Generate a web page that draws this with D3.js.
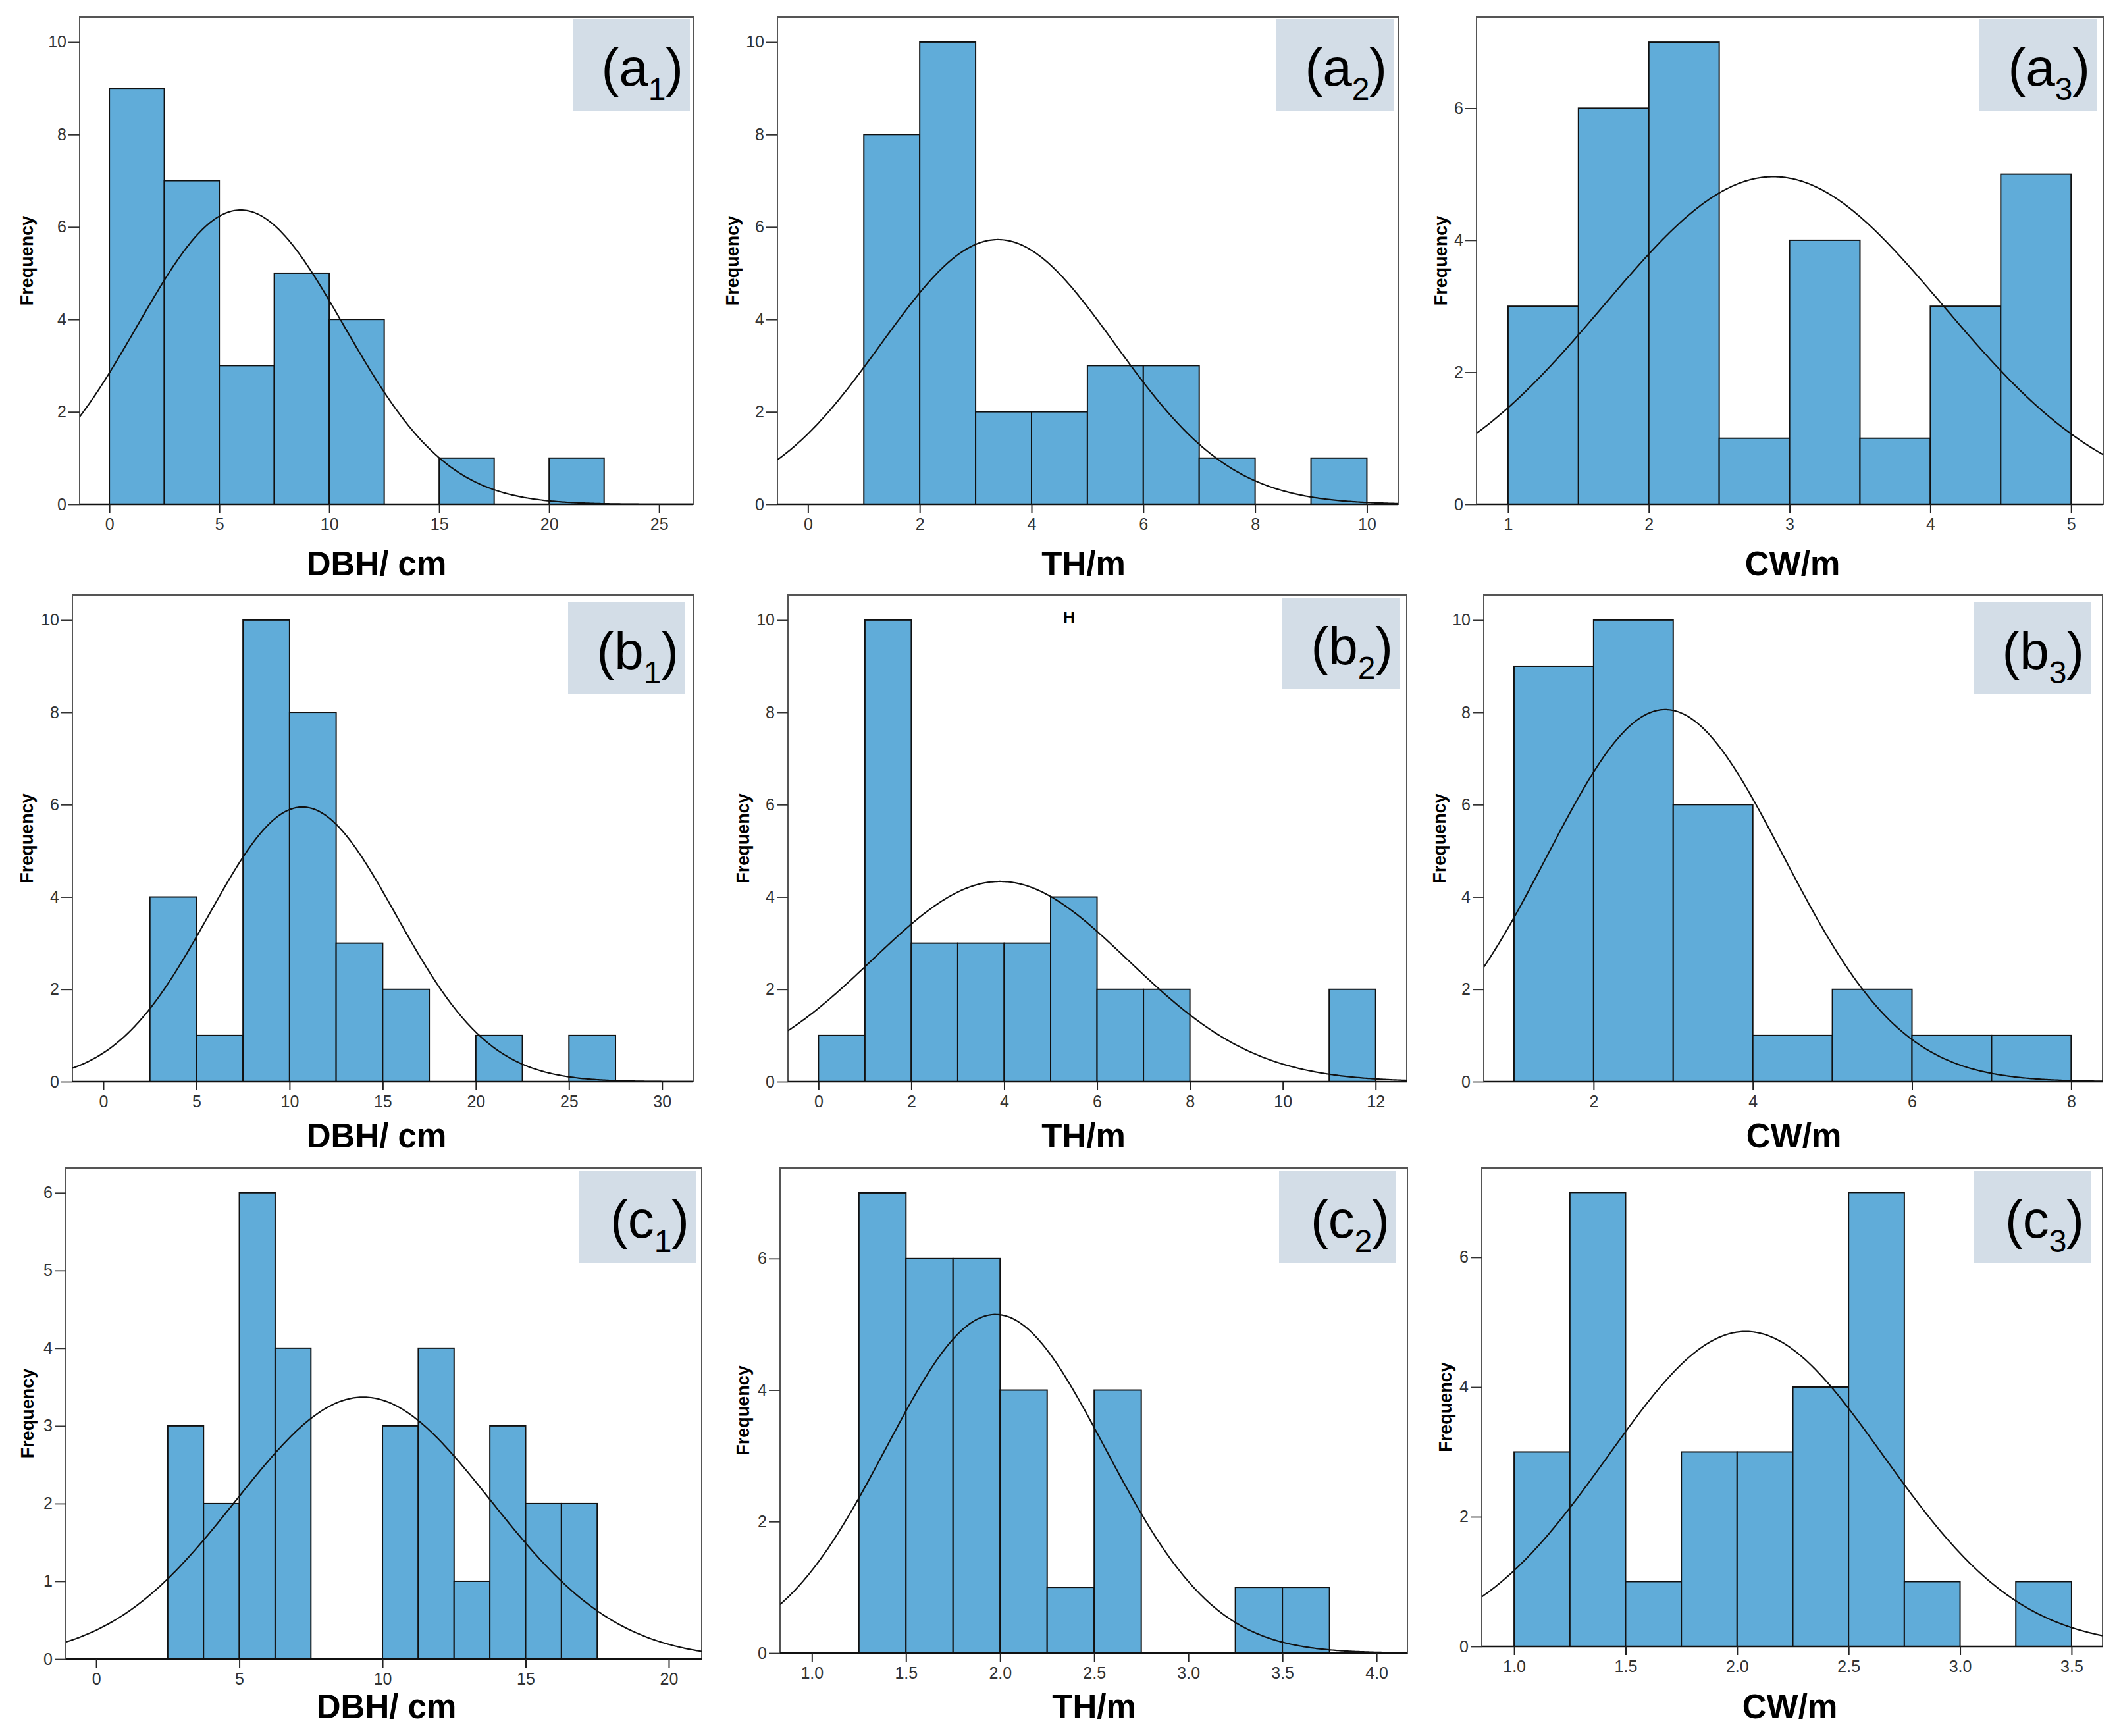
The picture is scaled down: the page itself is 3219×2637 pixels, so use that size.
<!DOCTYPE html>
<html>
<head>
<meta charset="utf-8">
<script src="https://cdn.jsdelivr.net/npm/d3@7"></script>
<style>
  body { margin: 0; background: #fff; }
  svg { display: block; }
</style>
</head>
<body>
<div id="chart"></div>
<script>
// ---- data ----
var panelIds = ["a1", "a2", "a3", "b1", "b2", "b3", "c1", "c2", "c3"];
var axisTitles = ["DBH/ cm", "TH/m", "CW/m", "DBH/ cm", "TH/m", "CW/m", "DBH/ cm", "TH/m", "CW/m"];

// histogram bins: first bin edge, bin width, counts
var binStart = [0, 1, 1, 2.5, 0, 1, 2.5, 1.25, 1.0];
var binWidth = [2.5, 1, 0.5, 2.5, 1, 1, 1.25, 0.25, 0.25];
var countsA1 = [9, 7, 3, 5, 4, 0, 1, 0, 1];
var countsA2 = [8, 10, 2, 2, 3, 3, 1, 0, 1];
var countsA3 = [3, 6, 7, 1, 4, 1, 3, 5];
var countsB1 = [4, 1, 10, 8, 3, 2, 0, 1, 0, 1];
var countsB2 = [1, 10, 3, 3, 3, 4, 2, 2, 0, 0, 0, 2];
var countsB3 = [9, 10, 6, 1, 2, 1, 1];
var countsC1 = [3, 2, 6, 4, 0, 0, 3, 4, 1, 3, 2, 2];
var countsC2 = [7, 6, 6, 4, 1, 4, 0, 0, 1, 1];
var countsC3 = [3, 7, 1, 3, 3, 4, 7, 1, 0, 1];
var counts = [countsA1, countsA2, countsA3, countsB1, countsB2, countsB3, countsC1, countsC2, countsC3];

// fitted normal curve: mean, sd, sample size
var curveMean = [5.97, 3.40, 2.885, 10.69, 3.91, 2.90, 9.33, 1.976, 2.039];
var curveSd = [4.70, 2.09, 1.206, 5.03, 2.76, 1.485, 4.44, 0.581, 0.616];
var sampleN = [30, 30, 30, 30, 30, 30, 30, 30, 30];

// tick values
var xTicksA1 = [0, 5, 10, 15, 20, 25];
var xTicksA2 = [0, 2, 4, 6, 8, 10];
var xTicksA3 = [1, 2, 3, 4, 5];
var xTicksB1 = [0, 5, 10, 15, 20, 25, 30];
var xTicksB2 = [0, 2, 4, 6, 8, 10, 12];
var xTicksB3 = [2, 4, 6, 8];
var xTicksC1 = [0, 5, 10, 15, 20];
var xTicksC2 = [1.0, 1.5, 2.0, 2.5, 3.0, 3.5, 4.0];
var xTicksC3 = [1.0, 1.5, 2.0, 2.5, 3.0, 3.5];
var xTicks = [xTicksA1, xTicksA2, xTicksA3, xTicksB1, xTicksB2, xTicksB3, xTicksC1, xTicksC2, xTicksC3];
var xTickFormat = ["d", "d", "d", "d", "d", "d", "d", ".1f", ".1f"];
var yTicksTen = [0, 2, 4, 6, 8, 10];
var yTicksSix = [0, 2, 4, 6];
var yTicksC1 = [0, 1, 2, 3, 4, 5, 6];
var yTicks = [yTicksTen, yTicksTen, yTicksSix, yTicksTen, yTicksTen, yTicksTen, yTicksC1, yTicksSix, yTicksSix];

// ---- layout (pixels) ----
var frames = [
  {l: 121,  r: 1053, t: 26,  b: 766,  x0: -1.35, x1: 26.55, y1: 10.54},
  {l: 1181, r: 2124, t: 26,  b: 766,  x0: -0.546, x1: 10.56, y1: 10.54},
  {l: 2243, r: 3195, t: 26,  b: 766,  x0: 0.776, x1: 5.228, y1: 7.38},
  {l: 110,  r: 1053, t: 904, b: 1643, x0: -1.66, x1: 31.67, y1: 10.54},
  {l: 1197, r: 2137, t: 904, b: 1643, x0: -0.657, x1: 12.67, y1: 10.54},
  {l: 2254, r: 3194, t: 904, b: 1643, x0: 0.62, x1: 8.394, y1: 10.54},
  {l: 100,  r: 1066, t: 1774, b: 2520, x0: -1.06, x1: 21.15, y1: 6.32},
  {l: 1185, r: 2138, t: 1774, b: 2511, x0: 0.831, x1: 4.164, y1: 7.38},
  {l: 2251, r: 3194, t: 1774, b: 2501, x0: 0.855, x1: 3.639, y1: 7.38}
];
var labelBox = [[870, 29], [1939, 29], [3007, 29], [863, 915], [1948, 908], [2998, 915], [879, 1779], [1943, 1779], [2998, 1779]];
var titleX = [572, 1646, 2723, 572, 1646, 2725, 587, 1662, 2719];
var titleY = [874, 874, 874, 1743, 1743, 1743, 2610, 2610, 2610];
var freqX = [41, 1113, 2189, 41, 1129, 2187, 42, 1129, 2196];

var svg = d3.select("#chart").append("svg").attr("width", 3219).attr("height", 2637);
svg.append("rect").attr("width", 3219).attr("height", 2637).attr("fill", "#fff");

var tickFont = "'Liberation Sans Narrow', 'Arial Narrow', 'Liberation Sans', sans-serif";
var mainFont = "'Liberation Sans', Arial, sans-serif";

panelIds.forEach(function(id, i) {
  var f = frames[i];
  var x = d3.scaleLinear().domain([f.x0, f.x1]).range([f.l, f.r]);
  var y = d3.scaleLinear().domain([0, f.y1]).range([f.b, f.t]);
  var g = svg.append("g").attr("class", "panel-" + id);

  g.append("clipPath").attr("id", "clip-" + id)
    .append("rect").attr("x", f.l).attr("y", f.t).attr("width", f.r - f.l).attr("height", f.b - f.t);

  // frame
  g.append("rect")
    .attr("x", f.l).attr("y", f.t)
    .attr("width", f.r - f.l).attr("height", f.b - f.t)
    .attr("fill", "none").attr("stroke", "#555").attr("stroke-width", 2);

  // bars
  var bins = counts[i].map(function(c, k) {
    return {x0: binStart[i] + k * binWidth[i], x1: binStart[i] + (k + 1) * binWidth[i], n: c};
  }).filter(function(d) { return d.n > 0; });

  g.append("g").selectAll("rect")
    .data(bins)
    .enter().append("rect")
      .attr("x", function(d) { return x(d.x0); })
      .attr("y", function(d) { return y(d.n); })
      .attr("width", function(d) { return x(d.x1) - x(d.x0); })
      .attr("height", function(d) { return y(0) - y(d.n); })
      .attr("fill", "#60acd9")
      .attr("stroke", "#111")
      .attr("stroke-width", 2);

  // normal curve
  var mu = curveMean[i], sd = curveSd[i], scaleN = sampleN[i] * binWidth[i];
  var pts = d3.range(0, 401).map(function(k) {
    var xv = f.x0 + (f.x1 - f.x0) * k / 400;
    var z = (xv - mu) / sd;
    return [xv, scaleN / (sd * Math.sqrt(2 * Math.PI)) * Math.exp(-0.5 * z * z)];
  });
  g.append("path")
    .datum(pts)
    .attr("clip-path", "url(#clip-" + id + ")")
    .attr("fill", "none")
    .attr("stroke", "#111")
    .attr("stroke-width", 2.2)
    .attr("d", d3.line().x(function(d) { return x(d[0]); }).y(function(d) { return y(d[1]); }));

  // x axis
  var xa = g.append("g")
    .attr("transform", "translate(0," + f.b + ")")
    .call(d3.axisBottom(x).tickValues(xTicks[i]).tickFormat(d3.format(xTickFormat[i])).tickSize(13).tickSizeOuter(0).tickPadding(8));
  xa.select(".domain").attr("stroke", "#111").attr("stroke-width", 2.5)
    .attr("d", "M" + f.l + ",0H" + f.r);
  xa.selectAll(".tick line").attr("stroke", "#222").attr("stroke-width", 2);
  xa.selectAll(".tick text").attr("font-family", tickFont).attr("font-size", 25).attr("fill", "#333");

  // y axis
  var ya = g.append("g")
    .attr("transform", "translate(" + f.l + ",0)")
    .call(d3.axisLeft(y).tickValues(yTicks[i]).tickFormat(d3.format("d")).tickSize(17).tickSizeOuter(0).tickPadding(3));
  ya.select(".domain").remove();
  ya.selectAll(".tick line").attr("stroke", "#333").attr("stroke-width", 1.8);
  ya.selectAll(".tick text").attr("font-family", tickFont).attr("font-size", 25).attr("fill", "#333");

  // axis titles
  g.append("text")
    .attr("x", titleX[i]).attr("y", titleY[i])
    .attr("text-anchor", "middle")
    .attr("font-family", mainFont).attr("font-weight", "bold").attr("font-size", 51)
    .attr("fill", "#000")
    .text(axisTitles[i]);

  g.append("text")
    .attr("transform", "translate(" + freqX[i] + "," + ((f.t + f.b) / 2) + ") rotate(-90)")
    .attr("text-anchor", "middle")
    .attr("dy", "0.35em")
    .attr("font-family", mainFont).attr("font-weight", "bold").attr("font-size", 27)
    .attr("fill", "#000")
    .text("Frequency");

  // panel label box
  var lb = labelBox[i];
  g.append("rect")
    .attr("x", lb[0]).attr("y", lb[1])
    .attr("width", 178).attr("height", 139)
    .attr("fill", "#d3dde7");
  var lt = g.append("text")
    .attr("x", lb[0] + 168).attr("y", lb[1] + 101)
    .attr("text-anchor", "end")
    .attr("font-family", mainFont).attr("font-size", 80)
    .attr("fill", "#000");
  lt.append("tspan").text("(" + id.charAt(0));
  lt.append("tspan").attr("font-size", 48).attr("dy", 22).text(id.charAt(1));
  lt.append("tspan").attr("dy", -22).text(")");
});

// stray "H" mark inside panel b2
svg.append("text")
  .attr("x", 1624).attr("y", 947)
  .attr("text-anchor", "middle")
  .attr("font-family", mainFont).attr("font-weight", "bold").attr("font-size", 25)
  .attr("fill", "#000")
  .text("H");
</script>
</body>
</html>
